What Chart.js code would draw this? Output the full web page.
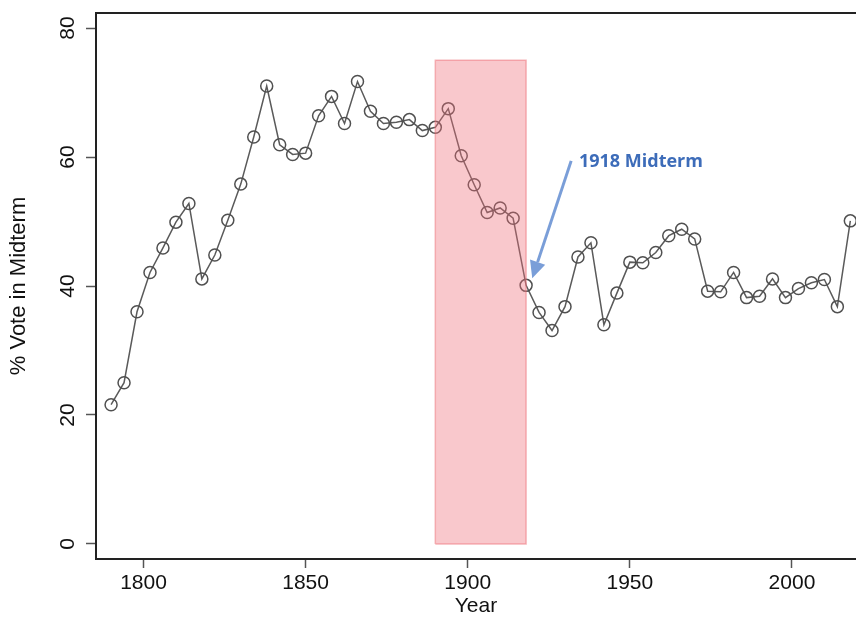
<!DOCTYPE html>
<html>
<head>
<meta charset="utf-8">
<script src="https://cdn.jsdelivr.net/npm/chart.js@4/dist/chart.umd.min.js"></script>
<style>
  html, body { margin: 0; padding: 0; background: #fff; }
  #wrap { width: 856px; height: 617px; }
</style>
</head>
<body>
<div id="wrap"><canvas id="chart" width="856" height="617"></canvas></div>
<script>
// midterm election years
const years = [1790, 1794, 1798, 1802, 1806, 1810, 1814, 1818, 1822, 1826, 1830, 1834, 1838,
  1842, 1846, 1850, 1854, 1858, 1862, 1866, 1870, 1874, 1878, 1882, 1886, 1890,
  1894, 1898, 1902, 1906, 1910, 1914, 1918, 1922, 1926, 1930, 1934, 1938, 1942,
  1946, 1950, 1954, 1958, 1962, 1966, 1970, 1974, 1978, 1982, 1986, 1990, 1994,
  1998, 2002, 2006, 2010, 2014, 2018];
// % vote in midterm
const votePct = [21.6, 25.0, 36.0, 42.1, 45.9, 49.9, 52.8, 41.1, 44.8, 50.2, 55.8, 63.1, 71.0,
  61.9, 60.4, 60.6, 66.4, 69.4, 65.2, 71.7, 67.1, 65.2, 65.4, 65.8, 64.1, 64.6,
  67.5, 60.2, 55.7, 51.4, 52.1, 50.5, 40.1, 35.9, 33.1, 36.8, 44.5, 46.7, 34.0,
  38.9, 43.7, 43.6, 45.2, 47.8, 48.8, 47.3, 39.2, 39.1, 42.1, 38.2, 38.4, 41.1,
  38.2, 39.6, 40.5, 41.0, 36.8, 50.1];
// shaded period
const shadeYears = [1890, 1918];
const shadeTop = 75;
const xTicks = [1800, 1850, 1900, 1950, 2000];
const yTicks = [0, 20, 40, 60, 80];
const noteText = '1918 Midterm';

const points = years.map((y, i) => ({ x: y, y: votePct[i] }));
const shadeFill = [{ x: shadeYears[0], y: shadeTop }, { x: shadeYears[1], y: shadeTop }];
const shadeEdge = [
  { x: shadeYears[0], y: 0 }, { x: shadeYears[0], y: shadeTop },
  { x: shadeYears[1], y: shadeTop }, { x: shadeYears[1], y: 0 },
  { x: shadeYears[0], y: 0 }
];

const tickFont = { family: '"Liberation Sans", Arial, Helvetica, sans-serif', size: 21 };

// top frame line + arrow annotation
const extras = {
  id: 'extras',
  afterDatasetsDraw(chart) {
    const { ctx, chartArea, scales: { x, y } } = chart;
    ctx.save();
    ctx.strokeStyle = '#222';
    ctx.lineWidth = 2;
    ctx.beginPath();
    ctx.moveTo(chartArea.left, chartArea.top);
    ctx.lineTo(chartArea.right, chartArea.top);
    ctx.stroke();

    // arrow pointing at 1918
    const x0 = x.getPixelForValue(1931.9), y0 = y.getPixelForValue(59.4);
    const x1 = x.getPixelForValue(1919.9), y1 = y.getPixelForValue(41.2);
    const ang = Math.atan2(y1 - y0, x1 - x0);
    const headLen = 17, headW = 8;
    const bx = x1 - headLen * Math.cos(ang), by = y1 - headLen * Math.sin(ang);
    ctx.strokeStyle = '#7a9ed8';
    ctx.fillStyle = '#7a9ed8';
    ctx.lineWidth = 3;
    ctx.beginPath();
    ctx.moveTo(x0, y0);
    ctx.lineTo(bx, by);
    ctx.stroke();
    ctx.beginPath();
    ctx.moveTo(x1, y1);
    ctx.lineTo(bx + headW * Math.sin(ang), by - headW * Math.cos(ang));
    ctx.lineTo(bx - headW * Math.sin(ang), by + headW * Math.cos(ang));
    ctx.closePath();
    ctx.fill();

    ctx.fillStyle = '#3d6cb9';
    ctx.font = 'bold 18px "Open Sans", sans-serif';
    ctx.textAlign = 'left';
    ctx.textBaseline = 'middle';
    ctx.fillText(noteText, x.getPixelForValue(1934.3), y.getPixelForValue(59.2));
    ctx.restore();
  }
};

new Chart(document.getElementById('chart'), {
  type: 'line',
  data: {
    datasets: [
      {
        label: 'shade',
        data: shadeFill,
        order: 0,
        borderWidth: 0,
        borderColor: 'rgba(0,0,0,0)',
        backgroundColor: 'rgba(240, 110, 120, 0.38)',
        fill: 'origin',
        pointRadius: 0,
        tension: 0
      },
      {
        label: 'shade edge',
        data: shadeEdge,
        order: 0,
        borderColor: 'rgba(238, 110, 118, 0.5)',
        borderWidth: 1.5,
        fill: false,
        pointRadius: 0,
        tension: 0
      },
      {
        label: '% Vote in Midterm',
        data: points,
        order: 1,
        borderColor: '#5a5a5a',
        borderWidth: 1.5,
        pointRadius: 6,
        pointBorderWidth: 1.5,
        pointBorderColor: '#505050',
        pointBackgroundColor: 'rgba(0,0,0,0)',
        fill: false,
        tension: 0,
        clip: false
      }
    ]
  },
  options: {
    responsive: false,
    animation: false,
    devicePixelRatio: 1,
    layout: { autoPadding: false, padding: { top: 13, right: 0, left: 0, bottom: 0 } },
    plugins: { legend: { display: false }, tooltip: { enabled: false } },
    scales: {
      x: {
        type: 'linear',
        min: 1785.35,
        max: 2019.75,
        afterBuildTicks: s => { s.ticks = xTicks.map(v => ({ value: v })); },
        afterFit: s => { s.height = 58; s.paddingLeft = 0; s.paddingRight = 0; },
        grid: { drawOnChartArea: false, tickLength: 9, tickColor: '#555', tickWidth: 1.5 },
        border: { color: '#222', width: 2 },
        ticks: { color: '#111', font: tickFont, padding: 3, maxRotation: 0, callback: v => String(v) },
        title: { display: true, text: 'Year', color: '#111', font: { ...tickFont, lineHeight: 1 }, padding: 0 }
      },
      y: {
        min: -2.33,
        max: 82.33,
        afterBuildTicks: s => { s.ticks = yTicks.map(v => ({ value: v })); },
        afterFit: s => { s.width = 96; s.paddingTop = 0; s.paddingBottom = 0; },
        grid: { drawOnChartArea: false, tickLength: 10, tickColor: '#555', tickWidth: 1.5 },
        border: { color: '#222', width: 2 },
        ticks: { color: '#111', font: tickFont, padding: 6, minRotation: 90, maxRotation: 90, crossAlign: 'center' },
        title: { display: true, text: '% Vote in Midterm', color: '#111', font: { ...tickFont, size: 22 }, padding: { top: 6, bottom: 0 } }
      }
    }
  },
  plugins: [extras]
});
</script>
</body>
</html>
